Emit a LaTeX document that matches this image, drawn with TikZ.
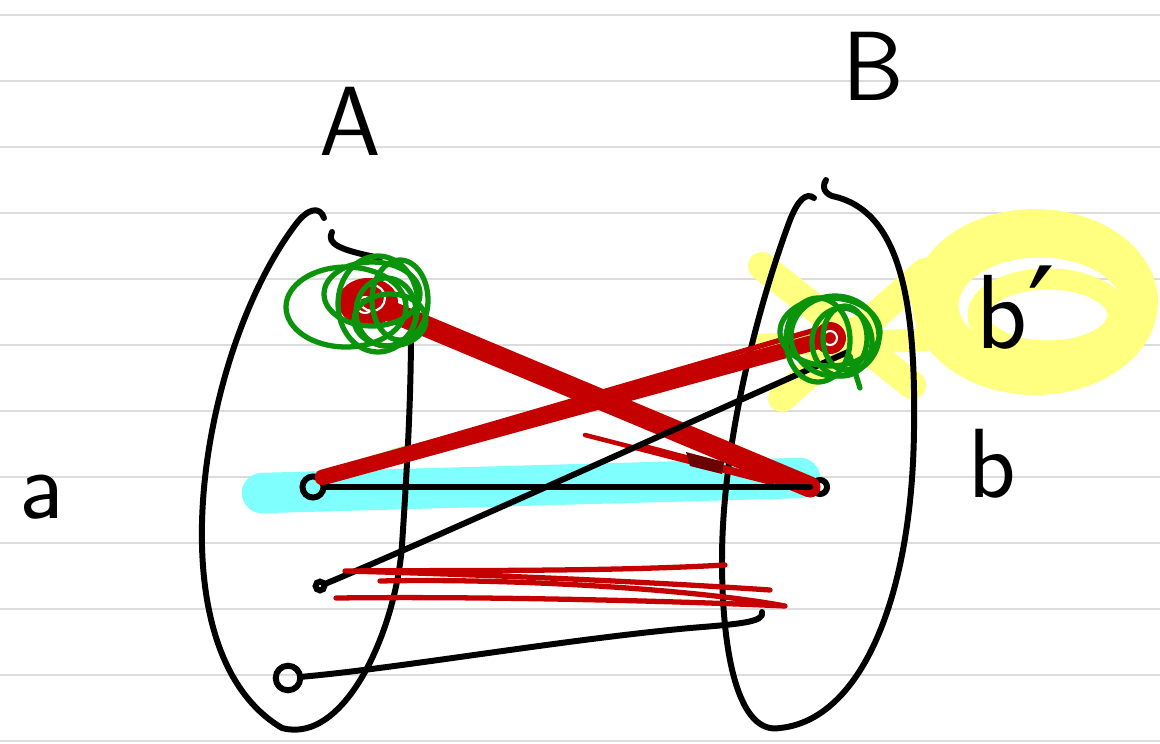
\documentclass[tikz,border=0pt]{standalone}
\usepackage{fontspec}
\usetikzlibrary{calc}
\definecolor{ruling}{HTML}{DCDCDC}
\definecolor{redpen}{HTML}{C40000}
\definecolor{greenpen}{HTML}{0B930B}
\definecolor{hlcyan}{HTML}{80FFFF}
\definecolor{hlyellow}{HTML}{FFFF80}
\definecolor{hlgreen}{HTML}{80F080}
\newfontfamily\symfont{DejaVu Sans}

\tikzset{
  ink/.style={draw=black, line width=3.4pt, line cap=round, line join=round},
  dot/.style={circle, draw=black, line width=3.4pt, inner sep=0pt},
  redink/.style={draw=redpen, line cap=round, line join=round},
  greenink/.style={draw=greenpen, line width=3pt},
  marker/.style={line cap=round, line join=round},
  letter/.style={anchor=base, inner sep=0pt, font=\sffamily\fontsize{56}{60}\selectfont}
}

\begin{document}
\begin{tikzpicture}[x=0.02cm,y=-0.02cm]
  \useasboundingbox (0,0) rectangle (1160,744);
  \fill[white] (0,0) rectangle (1160,744);
  % ruled paper
  \foreach \yy in {15,81,...,741}
    \draw[ruling, line width=1.4pt] (0,\yy) -- (1160,\yy);

  % highlighters
  \draw[marker, hlcyan, line width=23pt] (262,493) -- (800,478);
  \draw[marker, hlyellow, line width=17pt] (1035,302) ellipse [x radius=108, y radius=78];
  \draw[marker, hlyellow, line width=12pt] (1040,305) ellipse [x radius=92, y radius=58];
  \draw[marker, hlyellow, line width=12pt] (1048,315) ellipse [x radius=70, y radius=36];
  \draw[marker, hlyellow, line width=16pt] (762,266) -- (912,385);
  \draw[marker, hlyellow, line width=16pt] (782,398) -- (925,272);
  \draw[marker, hlyellow, line width=13pt] (760,345) -- (925,340);
  \draw[marker, hlgreen, line width=7pt] (320,478) -- (405,452);

  % elements
  \coordinate (a4) at (368,302);
  \coordinate (b2) at (830,338);
  \node[dot, minimum size=12pt] (a1) at (313,487) {};
  \node[dot, minimum size=8pt] (b1) at (820,487) {};
  \node[dot, minimum size=5pt] (a2) at (320,586) {};
  \node[dot, minimum size=14pt] (a3) at (288,678) {};
  \coordinate (tail) at (762,612);

  % sets
  \draw[ink] (324,218) .. controls (320,206) and (308,208) .. (296,224)
    .. controls (200,350) and (150,650) .. (282,728)
    .. controls (345,745) and (396,630) .. (402,545)
    .. controls (407,470) and (411,400) .. (411,330);
  \draw[ink] (332,232) .. controls (326,244) and (340,250) .. (380,258);
  \draw[ink] (814,198) .. controls (806,192) and (798,200) .. (790,220)
    .. controls (760,300) and (722,440) .. (722,560)
    .. controls (722,660) and (740,735) .. (780,728)
    .. controls (860,720) and (912,600) .. (914,430)
    .. controls (916,300) and (900,210) .. (832,196)
    .. controls (822,192) and (823,184) .. (826,180);

  % red links
  \draw[redink, line width=12pt] (a4) -- (b1.west);
  \draw[redink, line width=3pt] (400,318) -- (812,484);
  \draw[redink, line width=9pt] (a1.north east) -- (b2);
  \draw[redink, line width=3pt] (335,470) -- (815,330);
  \draw[redink, line width=2.6pt] (585,435) -- (772,483);
  \draw[redink, line width=2.6pt] (640,445) -- (810,490);
  \fill[redpen!55!black] (686,452) -- (724,462) -- (722,474) -- (690,466) -- cycle;

  % black links
  \draw[ink] (a1) -- (b1);
  \draw[ink] (a2) .. controls (430,540) and (650,440) .. ($(b2)+(18,14)$);
  \draw[ink] (a3) .. controls (400,668) and (560,640) .. (690,628)
    .. controls (740,624) and (765,622) .. (tail);

  % red scribble below
  \draw[redink, line width=3pt] (725,565) .. controls (600,572) and (450,570) .. (345,571)
    .. controls (500,575) and (650,582) .. (770,590);
  \draw[redink, line width=3pt] (380,581) .. controls (520,578) and (700,590) .. (785,606)
    .. controls (700,602) and (500,596) .. (336,598);

  % scribbled points
  \fill[redpen] (a4) ellipse [x radius=30, y radius=24];
  \foreach \dx/\dy/\r in {4/-4/13, -3/3/8}
    \draw[white, line width=1.2pt] ($(a4)+(\dx,\dy)$) circle [radius=\r];
  \foreach \dx/\dy/\rx/\ry in {-22/5/60/40, 10/2/40/48, 18/10/30/34, 4/-8/48/32, 22/18/36/26, 32/-2/28/40}
    \draw[greenink] ($(a4)+(\dx,\dy)$) ellipse [x radius=\rx, y radius=\ry];
  \fill[redpen] (b2) circle [radius=16];
  \draw[white, line width=1.2pt] (b2) circle [radius=7];
  \foreach \dx/\dy/\rx/\ry in {-12/2/32/42, 5/-2/44/40, 12/4/30/34, 0/-6/50/34, 15/0/22/32}
    \draw[greenink] ($(b2)+(\dx,\dy)$) ellipse [x radius=\rx, y radius=\ry];
  \draw[greenink, line cap=round] ($(b2)+(20,18)$) -- ($(b2)+(30,50)$);

  % labels
  \node[letter] (labA) at (350,155) {A};
  \node[letter] (labB) at (873,100) {B};
  \node[letter] (laba) at (42,518) {a};
  \node[letter] (labb) at (992,497) {b};
  \node[letter, font=\sffamily\fontsize{60}{64}\selectfont] (labbp) at (1016,348) {b{\symfont\fontsize{70}{70}\selectfont\raisebox{-4pt}{′}}};
\end{tikzpicture}
\end{document}
